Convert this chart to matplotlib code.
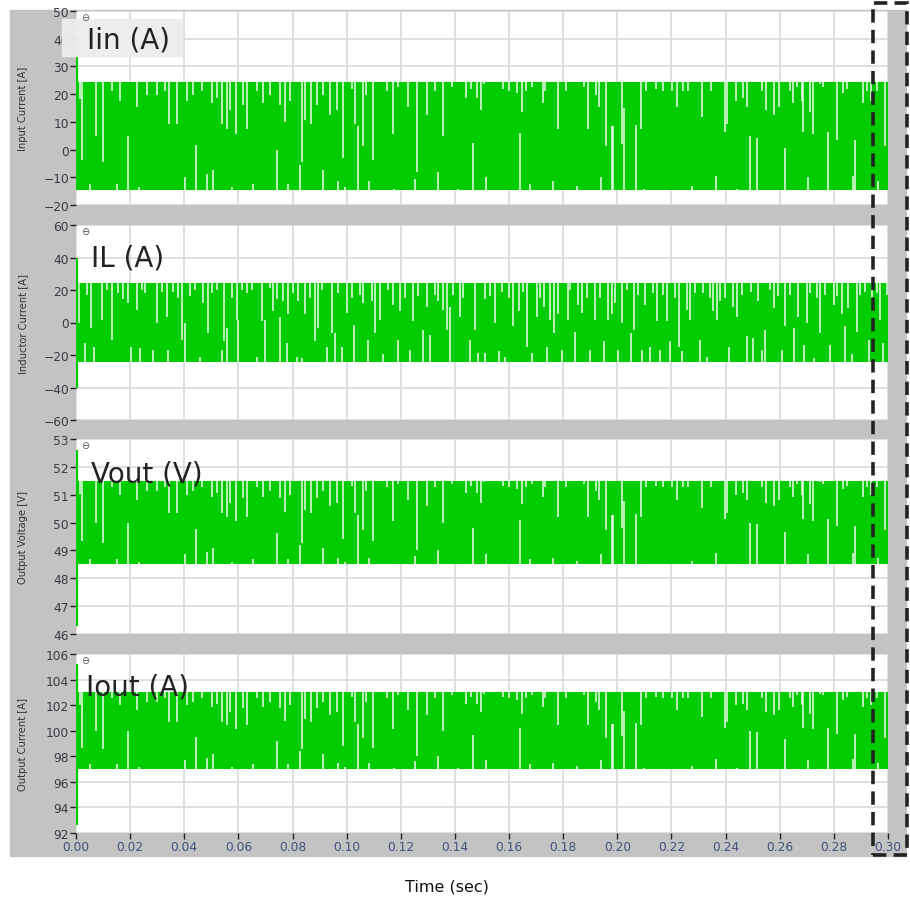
import numpy as np
import matplotlib
matplotlib.use('Agg')
import matplotlib.pyplot as plt
from matplotlib.patches import Rectangle

# ── Data ─────────────────────────────────────────────────────────────────
titles   = ['Iin (A)', 'IL (A)', 'Vout (V)', 'Iout (A)']
ylabels  = ['Input Current [A]', 'Inductor Current [A]',
            'Output Voltage [V]', 'Output Current [A]']
y_limits = [(-20, 50), (-60, 60), (46, 53), (92, 106)]
y_steps  = [10, 20, 1, 2]
band_low   = [-14.6, -24.0, 48.5, 97.0]   # lower switching level
band_high  = [24.3, 24.3, 51.5, 103.0]    # upper switching level
start_low  = [-14.6, -40.0, 46.3, 92.6]   # start-up transient at t = 0
start_high = [33.8, 40.0, 52.6, 105.2]
gap_set    = ['a', 'b', 'a', 'a']
t_end   = 0.30
x_ticks = np.arange(0, 0.301, 0.02)

# gaps in the drawn band: (time [ms], fraction of band height)
# "top" gaps hang from the upper level, "bot" gaps rise from the lower level
gaps_a_top = [
    (1.5, 0.16), (2.2, 0.72), (7.4, 0.50), (10.1, 0.74), (13.2, 0.08), (16.3, 0.17),
    (22.7, 0.23), (26.4, 0.12), (30.1, 0.12), (32.9, 0.08), (34.5, 0.39), (37.4, 0.39),
    (41.1, 0.17), (43.1, 0.12), (46.4, 0.08), (50.1, 0.19), (52.0, 0.15), (53.8, 0.39),
    (55.7, 0.43), (56.9, 0.26), (59.1, 0.48), (61.8, 0.21), (63.1, 0.43), (66.8, 0.08),
    (69.0, 0.19), (71.7, 0.12), (75.4, 0.21), (77.2, 0.37), (79.1, 0.17), (83.4, 0.74),
    (84.7, 0.35), (86.7, 0.39), (88.9, 0.21), (91.1, 0.12), (93.9, 0.30), (96.3, 0.26),
    (98.5, 0.70), (101.9, 0.06), (103.1, 0.39), (106.0, 0.59), (107.2, 0.12), (109.9, 0.72),
    (114.8, 0.08), (117.0, 0.48), (119.1, 0.04), (122.8, 0.23), (125.9, 0.83), (129.8, 0.30),
    (132.7, 0.08), (135.7, 0.50), (138.8, 0.04), (144.1, 0.15), (145.9, 0.06), (148.3, 0.15),
    (149.5, 0.26), (150.8, 0.02), (157.9, 0.06), (160.1, 0.08), (162.8, 0.10), (164.7, 0.28),
    (166.3, 0.08), (168.4, 0.04), (172.4, 0.19), (173.3, 0.08), (178.0, 0.43), (181.1, 0.08),
    (187.7, 0.04), (189.3, 0.43), (192.1, 0.12), (193.4, 0.23), (195.8, 0.59), (201.6, 0.57),
    (208.6, 0.43), (210.6, 0.08), (214.3, 0.06), (217.0, 0.08), (220.1, 0.08), (221.9, 0.23),
    (224.2, 0.08), (226.2, 0.08), (231.2, 0.32), (234.5, 0.08), (239.8, 0.46), (240.7, 0.39),
    (243.9, 0.17), (246.6, 0.15), (247.8, 0.23), (253.3, 0.08), (254.9, 0.26), (257.7, 0.30),
    (259.9, 0.23), (263.8, 0.08), (264.8, 0.19), (266.3, 0.04), (268.1, 0.17), (268.7, 0.46),
    (271.0, 0.28), (272.4, 0.48), (274.9, 0.02), (276.1, 0.04), (281.1, 0.54), (283.5, 0.10),
    (285.0, 0.06), (290.7, 0.19), (292.1, 0.08), (293.6, 0.17), (295.8, 0.08), (298.9, 0.59),
]
gaps_a_bot = [
    (5.2, 0.06), (15.0, 0.06), (19.3, 0.50), (23.2, 0.03), (40.3, 0.12), (44.3, 0.42),
    (48.5, 0.15), (50.7, 0.19), (57.5, 0.03), (65.3, 0.06), (74.1, 0.37), (78.5, 0.06),
    (82.8, 0.23), (91.4, 0.19), (96.8, 0.08), (99.4, 0.03), (104.3, 0.59), (108.1, 0.08),
    (117.5, 0.01), (125.3, 0.10), (133.9, 0.17), (141.3, 0.01), (146.8, 0.44), (151.4, 0.12),
    (164.1, 0.53), (167.8, 0.06), (176.1, 0.08), (185.2, 0.04), (194.0, 0.12), (197.9, 0.59),
    (198.3, 0.59), (202.5, 0.76), (206.9, 0.60), (210.0, 0.01), (227.5, 0.04), (236.5, 0.13),
    (244.1, 0.01), (249.0, 0.50), (251.5, 0.48), (262.0, 0.39), (270.6, 0.12), (278.0, 0.54),
    (287.2, 0.13), (287.8, 0.46), (296.3, 0.08),
]
gaps_b_top = [
    (1.2, 0.51), (3.9, 0.15), (5.4, 0.57), (9.5, 0.47), (11.3, 0.09), (13.2, 0.72),
    (15.6, 0.13), (17.2, 0.21), (19.3, 0.26), (22.4, 0.34), (24.3, 0.09), (25.5, 0.13),
    (30.0, 0.51), (31.7, 0.11), (33.5, 0.43), (36.0, 0.11), (37.8, 0.19), (39.0, 0.72),
    (42.1, 0.17), (44.0, 0.09), (47.0, 0.26), (48.9, 0.64), (50.1, 0.13), (52.0, 0.09),
    (54.7, 0.74), (57.5, 0.19), (59.4, 0.47), (61.2, 0.09), (63.1, 0.13), (64.9, 0.09),
    (68.6, 0.49), (71.7, 0.06), (72.9, 0.36), (74.1, 0.21), (76.6, 0.23), (78.5, 0.40),
    (80.3, 0.13), (82.2, 0.23), (84.6, 0.40), (86.5, 0.19), (88.3, 0.74), (89.5, 0.57),
    (90.8, 0.09), (94.5, 0.64), (96.9, 0.13), (100.0, 0.38), (101.9, 0.19), (105.0, 0.15),
    (106.2, 0.26), (109.3, 0.23), (110.5, 0.64), (112.3, 0.47), (115.4, 0.09), (117.3, 0.28),
    (119.7, 0.36), (121.6, 0.19), (124.6, 0.49), (126.5, 0.17), (129.6, 0.30), (132.7, 0.15),
    (133.9, 0.23), (135.7, 0.34), (137.0, 0.60), (139.4, 0.15), (141.9, 0.43), (143.1, 0.19),
    (147.4, 0.60), (151.1, 0.21), (153.0, 0.17), (154.8, 0.51), (157.3, 0.11), (159.8, 0.19),
    (161.6, 0.55), (163.5, 0.36), (165.3, 0.11), (166.5, 0.81), (170.2, 0.43), (171.5, 0.19),
    (172.9, 0.30), (175.2, 0.47), (176.6, 0.64), (178.2, 0.40), (181.6, 0.47), (182.6, 0.09),
    (185.6, 0.28), (186.9, 0.38), (188.7, 0.19), (191.8, 0.47), (193.6, 0.19), (196.7, 0.47),
    (198.0, 0.40), (199.2, 0.26), (201.6, 0.51), (203.5, 0.09), (206.2, 0.60), (207.8, 0.15),
    (210.3, 0.28), (213.3, 0.13), (214.6, 0.49), (217.0, 0.15), (218.3, 0.49), (221.4, 0.19),
    (222.6, 0.81), (225.7, 0.34), (226.9, 0.47), (228.7, 0.13), (231.8, 0.13), (234.3, 0.19),
    (235.5, 0.36), (236.8, 0.47), (238.0, 0.23), (239.8, 0.19), (242.9, 0.30), (244.1, 0.43),
    (246.0, 0.15), (249.3, 0.11), (252.1, 0.23), (256.5, 0.09), (257.7, 0.32), (259.5, 0.17),
    (262.0, 0.55), (263.8, 0.15), (266.9, 0.43), (270.0, 0.51), (271.2, 0.13), (273.7, 0.19),
    (274.9, 0.64), (276.8, 0.15), (279.9, 0.28), (281.1, 0.17), (282.9, 0.40), (285.4, 0.32),
    (288.5, 0.62), (289.7, 0.15), (291.6, 0.11), (294.0, 0.19), (295.9, 0.13), (297.1, 0.47),
    (299.6, 0.15),
]
gaps_b_bot = [
    (3.3, 0.23), (6.6, 0.19), (20.2, 0.19), (23.6, 0.17), (28.6, 0.15), (34.1, 0.15),
    (40.3, 0.49), (45.8, 0.06), (53.8, 0.15), (55.7, 0.43), (60.0, 0.53), (66.8, 0.06),
    (69.8, 0.53), (75.4, 0.57), (77.8, 0.23), (81.5, 0.06), (83.4, 0.04), (92.6, 0.19),
    (95.7, 0.36), (98.2, 0.19), (102.7, 0.47), (108.0, 0.28), (113.6, 0.09), (119.1, 0.28),
    (123.4, 0.15), (128.3, 0.40), (130.8, 0.34), (138.2, 0.70), (145.6, 0.28), (148.7, 0.11),
    (151.1, 0.11), (156.1, 0.13), (158.5, 0.06), (168.4, 0.11), (173.9, 0.19), (179.5, 0.15),
    (184.4, 0.38), (190.0, 0.15), (194.9, 0.26), (200.4, 0.15), (205.0, 0.36), (209.0, 0.15),
    (212.1, 0.19), (215.8, 0.15), (219.5, 0.26), (223.8, 0.13), (230.6, 0.28), (233.1, 0.06),
    (241.1, 0.19), (247.8, 0.32), (250.3, 0.30), (253.4, 0.15), (254.6, 0.40), (260.8, 0.15),
    (265.1, 0.43), (268.8, 0.21), (272.5, 0.04), (278.6, 0.21), (284.2, 0.45), (286.6, 0.09),
    (292.8, 0.28), (298.3, 0.23),
]
gaps = {'a': (gaps_a_top, gaps_a_bot), 'b': (gaps_b_top, gaps_b_bot)}

# ── Layout (pixels of the 910 x 903 canvas) ─────────────────────────────
W, H = 910, 903
panel_px = [(12, 206), (226, 421), (440, 635), (655, 834)]
title_px = [(87, 41), (91, 258), (91, 475), (86, 688)]
GREEN = '#00cc00'
FRAME = '#c3c3c3'


def px_rect(x0, y0, x1, y1):
    return [x0 / W, 1 - y1 / H, (x1 - x0) / W, (y1 - y0) / H]


fig = plt.figure(figsize=(W / 100, H / 100), dpi=100)
fig.patches.append(Rectangle((10 / W, 1 - 857 / H), 896 / W, 846 / H,
                             transform=fig.transFigure, color=FRAME, zorder=-5))

for i in range(4):
    y0, y1 = panel_px[i]
    ax = fig.add_axes(px_rect(76, y0, 888, y1))
    ax.set_facecolor('white')
    for s in ax.spines.values():
        s.set_visible(False)
    lo, hi = band_low[i], band_high[i]
    span = hi - lo

    ax.fill_between([0, t_end], lo, hi, color=GREEN, lw=0, zorder=2)
    top, bot = gaps[gap_set[i]]
    t_top = np.array([g[0] for g in top]) / 1000
    d_top = np.array([g[1] for g in top])
    t_bot = np.array([g[0] for g in bot]) / 1000
    h_bot = np.array([g[1] for g in bot])
    ax.vlines(t_top, hi - d_top * span, hi + 0.01 * span, color='#eef9ee', lw=1.1, zorder=3)
    ax.vlines(t_bot, lo - 0.01 * span, lo + h_bot * span, color='#eef9ee', lw=1.1, zorder=3)
    ax.vlines(0.0004, start_low[i], start_high[i], color=GREEN, lw=1.6, zorder=4)

    ymin, ymax = y_limits[i]
    ax.set_xlim(0, t_end)
    ax.set_ylim(ymin, ymax)
    ax.set_yticks(np.arange(ymin, ymax + 0.001, y_steps[i]))
    ax.set_xticks(x_ticks)
    ax.grid(True, color='#dcdcdc', lw=1.3, zorder=1)
    ax.set_axisbelow(True)
    ax.tick_params(axis='y', length=4, width=1, color='#222222', pad=1,
                   labelsize=8.8, labelcolor='#3a3a44')
    if i < 3:
        ax.tick_params(axis='x', length=0, labelbottom=False)
    else:
        ax.set_xticklabels([f'{v:.2f}' for v in x_ticks])
        ax.tick_params(axis='x', length=4, width=1, color='#222222', pad=1,
                       labelsize=8.8, labelcolor='#41537a')
    ax.set_ylabel(ylabels[i], fontsize=7.2, color='#333333',
                  family=['Liberation Sans Narrow', 'DejaVu Sans'])
    ax.yaxis.set_label_coords(-0.059, 0.5)

    fig.text(85 / W, 1 - (y0 + 6) / H, '\u2296', fontsize=7, color='#555555',
             ha='center', va='center', zorder=7)

# light label box behind the first title
fig.add_artist(Rectangle((62 / W, 1 - 57 / H), 120 / W, 37 / H, transform=fig.transFigure,
                         color='#ededed', alpha=0.95, zorder=5))
for i in range(4):
    x, y = title_px[i]
    fig.text(x / W, 1 - y / H, titles[i], fontsize=20, color='#222222',
             ha='left', va='center', zorder=6)

fig.text(447 / W, 1 - 887 / H, 'Time (sec)', fontsize=11.5, color='#111111',
         ha='center', va='center')

# dashed highlight around the final instant
fig.add_artist(Rectangle((873 / W, 1 - 856 / H), 34 / W, 852 / H, transform=fig.transFigure,
                         fill=False, edgecolor='#222222', lw=2.6,
                         linestyle=(0, (3.7, 2.0)), zorder=8, clip_on=False))

fig.savefig('out.png', dpi=100)
